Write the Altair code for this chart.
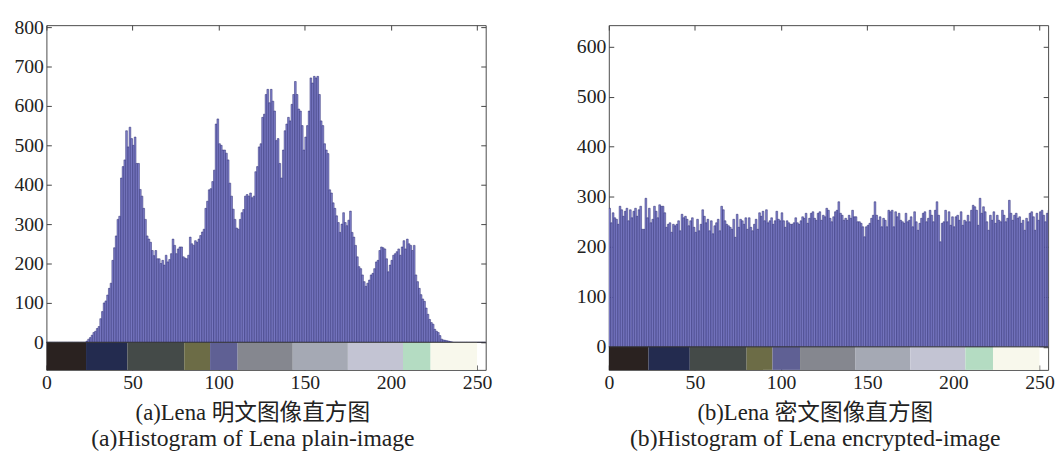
import altair as alt
import pandas as pd

FONT = "Liberation Serif, Noto Sans CJK SC"

# gray levels (histogram bins)
gray_levels = list(range(256))

# Lena plain-image histogram
plain_counts = [
    0, 0, 0, 0, 0, 0, 0, 0, 0, 0, 0, 0, 0, 0, 0, 0, 0, 0, 0, 0, 0, 0, 0,
    3, 8, 12, 18, 25, 28, 35, 40, 60, 78, 100, 105, 120, 137, 150, 208, 240, 270, 312, 320,
    417, 446, 463, 537, 496, 546, 517, 500, 521, 454, 454, 388, 371, 340, 312, 270, 262, 254,
    233, 220, 233, 212, 212, 200, 208, 196, 221, 204, 210, 225, 262, 246, 225, 237, 242, 242,
    217, 214, 212, 221, 267, 250, 246, 258, 254, 262, 271, 280, 287, 340, 358, 387, 390, 408,
    437, 554, 567, 504, 500, 488, 488, 480, 463, 404, 371, 338, 312, 290, 287, 312, 329, 337,
    371, 375, 371, 379, 367, 371, 433, 446, 496, 504, 571, 579, 629, 642, 608, 642, 612, 587,
    512, 517, 454, 417, 488, 537, 554, 571, 562, 604, 629, 662, 629, 592, 587, 550, 488, 521,
    550, 587, 671, 658, 675, 671, 675, 629, 562, 550, 504, 488, 479, 387, 379, 354, 340, 321,
    304, 279, 300, 329, 304, 296, 310, 333, 279, 267, 246, 217, 192, 187, 171, 154, 142, 150,
    158, 171, 175, 187, 204, 208, 233, 242, 240, 237, 212, 179, 196, 208, 221, 225, 230, 237,
    221, 242, 258, 237, 262, 250, 246, 233, 246, 171, 154, 137, 121, 110, 104, 87, 71, 58,
    50, 46, 33, 28, 25, 17, 8, 6, 5, 4, 3, 2, 1,
    0, 0, 0, 0, 0, 0, 0, 0, 0, 0, 0, 0, 0, 0, 0, 0, 0, 0, 0, 0,
]

# Lena encrypted-image histogram
cipher_counts = [
    277, 248, 268, 258, 255, 245, 281, 274, 261, 271,
    277, 252, 274, 258, 271, 277, 261, 274, 281, 235,
    235, 297, 258, 277, 248, 255, 281, 271, 258, 284,
    281, 281, 268, 239, 245, 248, 229, 245, 242, 245,
    252, 232, 265, 258, 261, 255, 242, 252, 258, 239,
    229, 255, 232, 245, 274, 261, 248, 255, 232, 252,
    226, 242, 248, 255, 232, 281, 274, 252, 245, 242,
    239, 235, 255, 219, 265, 239, 255, 252, 245, 258,
    235, 258, 239, 232, 245, 255, 235, 268, 261, 271,
    252, 274, 248, 252, 258, 245, 252, 271, 255, 252,
    268, 252, 239, 252, 248, 245, 245, 248, 258, 248,
    245, 252,
    260, 257, 267, 247, 257, 267, 270, 257, 253, 267,
    270, 253, 263, 260, 277, 273, 257, 250, 260, 270,
    273, 290, 267, 263, 253, 257, 253, 263, 257, 273,
    260, 260, 250, 250, 247, 240, 220, 240, 243, 247,
    257, 263, 290, 263, 253, 260, 240, 257, 253, 240,
    273, 270, 273, 240, 270, 260, 267, 253, 250, 247,
    267, 250, 253, 260, 240, 270, 250, 233, 247, 257,
    267, 270, 250, 257, 273, 263, 250, 273, 290, 263,
    210, 247, 250, 273, 250, 270, 243, 260, 240, 260,
    263, 253, 270, 243, 253, 250, 263, 250, 273, 283,
    280, 273, 243, 297, 267, 280, 270, 250, 233, 263,
    253, 270, 247, 263, 253, 250, 273, 263, 250, 257,
    293, 267, 253, 263, 267, 257, 260, 247, 253, 233,
    257, 250, 267, 270, 260, 233, 267, 253, 270, 273,
    263, 250, 267, 273,
]

# gray-level colour strip under the histograms
cbar_start = [0, 23, 47, 80, 95, 111, 143, 175, 207, 223]
cbar_end = [23, 47, 80, 95, 111, 143, 175, 207, 223, 250]
cbar_colors = ["#2a2220", "#232b4f", "#444a48", "#6c6c46", "#5f6094",
               "#85878f", "#a5a9b4", "#c3c4d3", "#b4dcc2", "#f8f8ec"]

x_ticks = [0, 50, 100, 150, 200, 250]
plain_yticks = [0, 100, 200, 300, 400, 500, 600, 700, 800]
cipher_yticks = [0, 100, 200, 300, 400, 500, 600]

TICK_COLOR = "#444444"
LABEL_COLOR = "#222222"


def panel(counts, ydom, yticks, title, subtitle):
    n = len(counts)
    df = pd.DataFrame({
        "level": gray_levels[:n],
        "level_end": [g + 1 for g in gray_levels[:n]],
        "count": counts,
        "base": [0] * n,
    })
    cdf = pd.DataFrame({
        "start": cbar_start,
        "end": cbar_end,
        "lo": [ydom[0]] * len(cbar_start),
        "hi": [0] * len(cbar_start),
        "col": cbar_colors,
    })
    xs = alt.Scale(domain=[0, 255], nice=False, zero=False)
    ys = alt.Scale(domain=ydom, nice=False, zero=False)

    bottom_ax = alt.Axis(orient="bottom", values=x_ticks, offset=-5, tickSize=5,
                         domain=False, grid=False, title=None, labelFont=FONT,
                         labelFontSize=20, labelColor=LABEL_COLOR, tickColor=TICK_COLOR,
                         labelPadding=3, labelFlush=False, labelOverlap=False)
    left_ax = alt.Axis(orient="left", values=yticks, offset=-5, tickSize=5,
                       domain=False, grid=False, title=None, labelFont=FONT,
                       labelFontSize=20, labelColor=LABEL_COLOR, tickColor=TICK_COLOR,
                       labelPadding=3, labelOverlap=False)
    top_ax = alt.Axis(orient="top", values=x_ticks, offset=-5, tickSize=5,
                      domain=False, grid=False, labels=False, title=None,
                      tickColor=TICK_COLOR)
    right_ax = alt.Axis(orient="right", values=yticks, offset=-5, tickSize=5,
                        domain=False, grid=False, labels=False, title=None,
                        tickColor=TICK_COLOR)

    bars = alt.Chart(df).mark_bar(fill="#8484ce", stroke="#26266e",
                                  strokeWidth=0.5, clip=True).encode(
        x=alt.X("level:Q", scale=xs, axis=bottom_ax),
        x2="level_end:Q",
        y=alt.Y("count:Q", scale=ys, axis=left_ax),
        y2="base:Q",
    )
    cbar = alt.Chart(cdf).mark_rect(clip=True).encode(
        x=alt.X("start:Q", scale=xs, axis=top_ax),
        x2="end:Q",
        y=alt.Y("lo:Q", scale=ys, axis=right_ax),
        y2="hi:Q",
        fill=alt.Fill("col:N", scale=None),
    )
    zero = alt.Chart(pd.DataFrame({"z": [0]})).mark_rule(
        color="#333333", strokeWidth=1).encode(
        y=alt.Y("z:Q", scale=ys, axis=None),
    )
    return alt.layer(bars, cbar, zero).resolve_axis(
        x="independent", y="independent"
    ).properties(
        width=446,
        height=350,
        title=alt.TitleParams(
            text=title, subtitle=subtitle, orient="bottom", anchor="middle",
            frame="bounds", font=FONT, fontSize=23, fontWeight="normal",
            color=LABEL_COLOR, subtitleFont=FONT, subtitleFontSize=24,
            subtitleColor=LABEL_COLOR, offset=10, subtitlePadding=2,
        ),
    )


left = panel(plain_counts, [-70, 805], plain_yticks,
             "(a)Lena 明文图像直方图", "(a)Histogram of Lena plain-image")
right = panel(cipher_counts, [-46, 643], cipher_yticks,
              "(b)Lena 密文图像直方图", "(b)Histogram of Lena encrypted-image")

chart = alt.hconcat(left, right, spacing=84).configure_view(
    stroke="#4a4a4a", strokeWidth=1
).properties(
    padding={"left": 5, "top": 5, "right": 0, "bottom": 0},
    background="white",
)

chart.save("out.html", embed_options={"renderer": "svg", "actions": False})
